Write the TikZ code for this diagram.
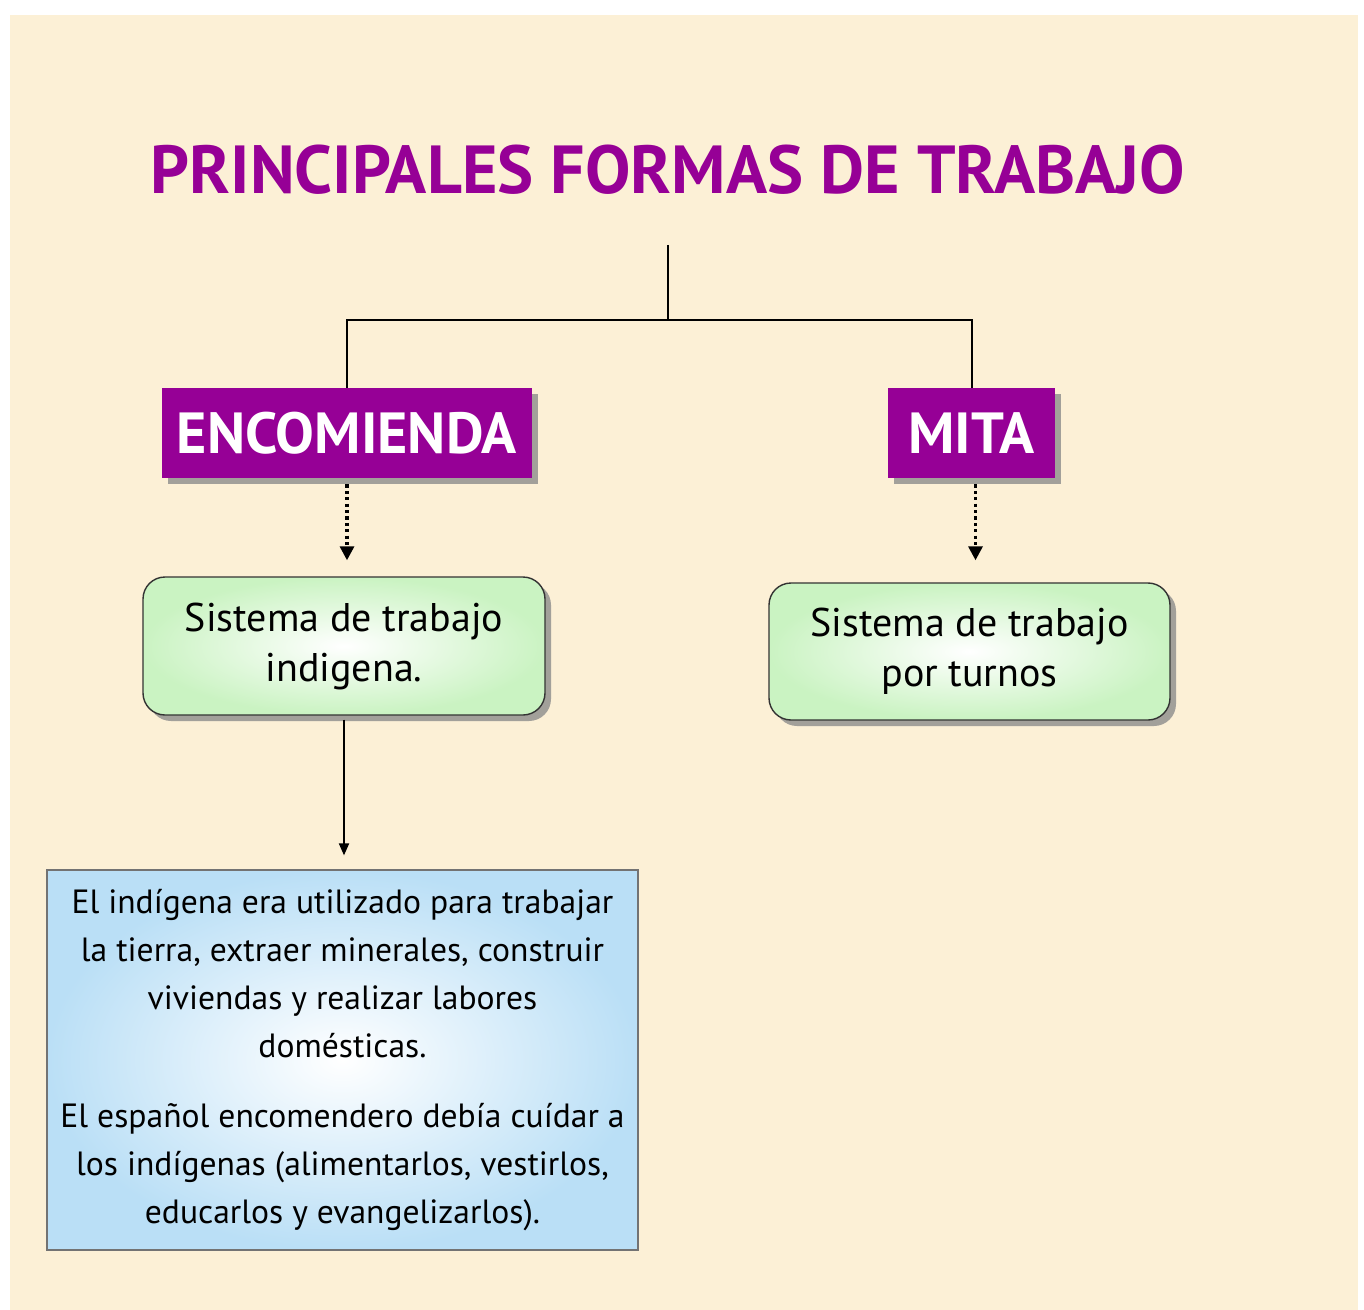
\documentclass[tikz,border=0pt]{standalone}
\usepackage{fontspec}
\setmainfont{PT Sans}
\usetikzlibrary{shadows,arrows.meta}
\definecolor{bg}{RGB}{252,240,214}
\definecolor{purp}{RGB}{150,0,150}
\definecolor{grn}{RGB}{202,243,194}
\definecolor{blu}{RGB}{186,223,246}
\definecolor{shadowgray}{RGB}{140,140,140}
\tikzset{
  headbox/.style={rectangle, fill=purp, text=white, inner sep=0pt,
    font=\fontsize{29}{33}\selectfont\bfseries,
    drop shadow={shadow xshift=3pt, shadow yshift=-3pt, fill=shadowgray, opacity=0.8}},
  sysbox/.style={rectangle, rounded corners=11pt, draw=black!80, line width=0.7pt,
    inner color=white, outer color=grn, align=center, inner sep=0pt,
    font=\fontsize{20}{25}\selectfont,
    drop shadow={shadow xshift=3pt, shadow yshift=-3pt, fill=shadowgray, opacity=0.8}},
  infobox/.style={rectangle, draw=black!55, line width=0.6pt,
    inner color=white, outer color=blu, align=center, inner sep=0pt,
    font=\fontsize{16.8}{24}\selectfont},
  treeline/.style={draw=black, line width=1pt},
  dotarrow/.style={draw=black, line width=1.6pt, dash pattern=on 1.6pt off 1.6pt,
    -{Triangle[length=7pt,width=7pt]}},
  solidarrow/.style={draw=black, line width=0.9pt,
    -{Triangle[length=6pt,width=5pt]}}
}
\begin{document}
\begin{tikzpicture}[x=0.5pt,y=-0.5pt]
\useasboundingbox (0,0) rectangle (1364,1310);
\fill[white] (0,0) rectangle (1364,1310);
\fill[bg] (10,15) rectangle (1358,1310);

\node[text=purp, font=\fontsize{34}{38}\selectfont\bfseries] (title) at (668,170) {PRINCIPALES FORMAS DE TRABAJO};

\node[headbox, minimum width=185pt, minimum height=45pt] (enc) at (347,433) {ENCOMIENDA};
\node[headbox, minimum width=83.5pt, minimum height=45pt] (mita) at (971.5,433) {MITA};

\node[sysbox, minimum width=201pt, minimum height=69pt] (sys1) at (344,646) {Sistema de trabajo\\indigena.};
\node[sysbox, minimum width=200.5pt, minimum height=68.5pt] (sys2) at (969.5,651.5) {Sistema de trabajo\\por turnos};

\node[infobox, minimum width=295.5pt, minimum height=190pt] (info) at (342.5,1060) {El indígena era utilizado para trabajar\\la tierra, extraer minerales, construir\\viviendas y realizar labores\\domésticas.\\[11pt]El español encomendero debía cuídar a\\los indígenas (alimentarlos, vestirlos,\\educarlos y evangelizarlos).};

\coordinate (stem) at (668,245);
\coordinate (junc) at (668,320);
\draw[treeline] (stem) -- (junc) -| (enc.north);
\draw[treeline] (junc) -| (mita.north);

\draw[dotarrow, shorten <=3pt, shorten >=8pt] (enc.south) -- (enc.south |- sys1.north);
\draw[dotarrow, shorten <=3pt, shorten >=11pt] ([xshift=2pt]mita.south) -- ([xshift=2pt]mita.south |- sys2.north);
\draw[solidarrow, shorten <=2pt, shorten >=7pt] (sys1.south) -- (sys1.south |- info.north);
\end{tikzpicture}
\end{document}
